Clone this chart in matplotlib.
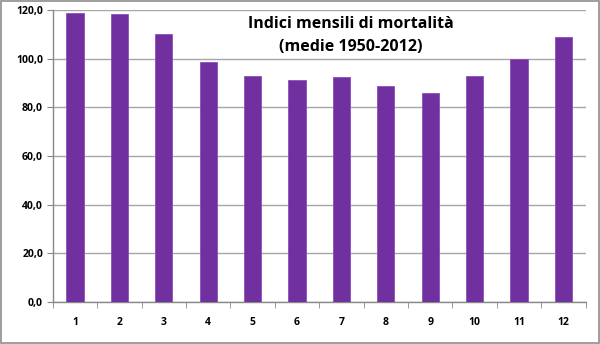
import numpy as np
import matplotlib
matplotlib.use("Agg")
import matplotlib.pyplot as plt
from matplotlib.patches import Rectangle

# Monthly mortality indices (averages 1950-2012)
months = [str(m) for m in range(1, 13)]
indices = [118.8, 118.4, 110.4, 98.8, 93.1, 91.3, 92.4, 88.9, 85.9, 93.1, 100.1, 108.9]
y_ticks = [0, 20, 40, 60, 80, 100, 120]

plt.rcParams['font.family'] = ['Open Sans', 'DejaVu Sans']

fig = plt.figure(figsize=(6.0, 3.44), dpi=100)
ax = fig.add_axes([0.088, 0.123, 0.888, 0.847])

x = np.arange(len(months))
ax.bar(x, indices, width=0.39, color='#7030A0', edgecolor='#8A4FB8', linewidth=0.6, zorder=3)

ax.set_xlim(-0.5, len(months) - 0.5)
ax.set_ylim(0, 120)
ax.set_yticks(y_ticks)
ax.set_yticklabels([f"{v:.1f}".replace('.', ',') for v in y_ticks],
                   fontsize=7.5, fontweight='bold')
ax.set_xticks(x)
ax.set_xticklabels(months, fontsize=7.5, fontweight='bold')

# category boundary ticks on the x axis
ax.set_xticks(np.arange(-0.5, len(months)), minor=True)
ax.tick_params(axis='x', which='major', length=0, pad=11)
ax.tick_params(axis='x', which='minor', length=4, color='#888888', direction='out')
ax.tick_params(axis='y', length=4, color='#888888', direction='out', pad=3)

ax.yaxis.grid(True, color='#A6A6A6', linewidth=1.0, zorder=0)
for side in ('top', 'right'):
    ax.spines[side].set_visible(False)
for side in ('left', 'bottom'):
    ax.spines[side].set_color('#888888')
    ax.spines[side].set_linewidth(1.0)

ax.text(0.56, 0.982, "Indici mensili di mortalità\n(medie 1950-2012)",
        transform=ax.transAxes, ha='center', va='top', fontsize=11.5,
        fontweight='bold', linespacing=1.6, zorder=5)

# outer frame around the chart area
fig.patches.append(Rectangle((0.001, 0.002), 0.997, 0.995, transform=fig.transFigure,
                             fill=False, edgecolor='#8C8C8C', linewidth=1.2))

fig.savefig('out.png', dpi=100)
